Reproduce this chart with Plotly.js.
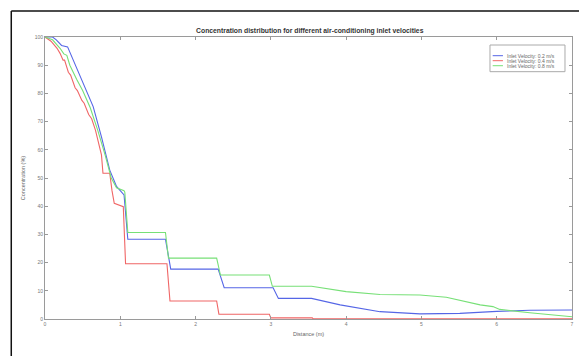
<!DOCTYPE html>
<html>
<head>
<meta charset="utf-8">
<script src="https://cdn.plot.ly/plotly-3.0.1.min.js"></script>
<style>html,body{margin:0;padding:0;background:#fff;}#chart{width:579px;height:356px;}</style>
</head>
<body>
<div id="chart"></div>
<script>
const seriesNames = ["Inlet Velocity: 0.2 m/s", "Inlet Velocity: 0.4 m/s", "Inlet Velocity: 0.8 m/s"];

const xBlue = [0, 0.1, 0.15, 0.22, 0.3, 0.34, 0.38, 0.5, 0.64, 0.75, 0.86, 0.95, 1.04, 1.05, 1.10, 1.60, 1.67, 2.30, 2.38, 3.03, 3.10, 3.54, 3.92, 4.45, 4.98, 5.51, 6.0, 6.44, 7.0];
const yBlue = [100, 100, 99, 97, 96.5, 94, 91, 84, 75.3, 64.6, 52.8, 47, 44.5, 44, 28.3, 28.3, 17.7, 17.7, 11.1, 11.1, 7.3, 7.3, 5.0, 2.6, 1.8, 2.0, 2.7, 3.1, 3.2];

const xRed = [0, 0.08, 0.16, 0.2, 0.24, 0.26, 0.31, 0.34, 0.4, 0.43, 0.49, 0.52, 0.58, 0.62, 0.67, 0.7, 0.75, 0.77, 0.86, 0.89, 0.92, 1.04, 1.07, 1.62, 1.66, 2.28, 2.31, 2.98, 3.00, 3.55, 3.56, 7.0];
const yRed = [100, 98.5, 96, 94.2, 91.8, 91.8, 87.5, 86.5, 82, 81, 77.5, 76.5, 72.5, 71, 67, 64, 58.2, 51.7, 51.7, 45.5, 41, 39.8, 19.6, 19.6, 6.4, 6.4, 1.7, 1.7, 0.4, 0.4, 0.1, 0.1];

const xGreen = [0, 0.1, 0.2, 0.25, 0.29, 0.33, 0.42, 0.5, 0.6, 0.7, 0.8, 0.88, 0.95, 1.05, 1.06, 1.10, 1.60, 1.64, 2.28, 2.33, 2.98, 3.02, 3.54, 4.0, 4.45, 4.98, 5.33, 5.78, 5.95, 6.04, 6.44, 6.75, 7.0];
const yGreen = [100, 99, 96, 94, 93.5, 90, 85, 81, 75, 67, 58, 50, 46.5, 45.5, 45, 30.7, 30.7, 21.6, 21.6, 15.6, 15.6, 11.6, 11.6, 9.7, 8.7, 8.5, 7.7, 5.0, 4.4, 3.4, 2.2, 1.4, 0.8];

const xTicks = [0, 1, 2, 3, 4, 5, 6, 7];
const yTicks = [0, 10, 20, 30, 40, 50, 60, 70, 80, 90, 100];

const colors = ["#5566e6", "#f06666", "#77e077"];

const traces = [
  {x: xBlue, y: yBlue, name: seriesNames[0]},
  {x: xRed, y: yRed, name: seriesNames[1]},
  {x: xGreen, y: yGreen, name: seriesNames[2]}
].map((t, i) => Object.assign(t, {type: "scatter", mode: "lines", line: {color: colors[i], width: 1.1}}));

const axisCommon = {
  showgrid: false, zeroline: false, showline: true, linecolor: "#9a9a9a", linewidth: 1,
  mirror: "ticks", ticks: "inside", ticklen: 3, tickcolor: "#9a9a9a",
  tickfont: {family: "Liberation Sans, Arial, sans-serif", size: 5, color: "#777"}
};

// legend (drawn as box + sample lines + labels in paper coordinates)
const legX0 = 0.8444, legX1 = 0.9867, legY0 = 0.877, legY1 = 0.9716;
const legLineX0 = 0.8495, legLineX1 = 0.869, legTextX = 0.8729;
const legRowsY = [0.9337, 0.916, 0.8982];

const shapes = [
  {type: "line", xref: "paper", yref: "paper", x0: -0.064, x1: 1.05, y0: 1.092, y1: 1.092, line: {color: "#111", width: 1.5}},
  {type: "line", xref: "paper", yref: "paper", x0: -0.064, x1: -0.064, y0: 1.092, y1: -0.2, line: {color: "#111", width: 1.5}},
  {type: "rect", xref: "paper", yref: "paper", x0: legX0, x1: legX1, y0: legY0, y1: legY1, fillcolor: "#fff", line: {color: "#aaa", width: 1}}
];
const annotations = [];
seriesNames.forEach((n, i) => {
  shapes.push({type: "line", xref: "paper", yref: "paper", x0: legLineX0, x1: legLineX1, y0: legRowsY[i], y1: legRowsY[i], line: {color: colors[i], width: 1}});
  annotations.push({xref: "paper", yref: "paper", x: legTextX, y: legRowsY[i], xanchor: "left", yanchor: "middle", showarrow: false,
                    text: n, font: {family: "Liberation Sans, Arial, sans-serif", size: 5, color: "#666"}});
});

const layout = {
  width: 579, height: 356,
  margin: {l: 45, r: 7, t: 37, b: 37},
  paper_bgcolor: "#fff", plot_bgcolor: "#fff",
  showlegend: false,
  font: {family: "Liberation Sans, Arial, sans-serif", color: "#555"},
  title: {text: "<b>Concentration distribution for different air-conditioning inlet velocities</b>",
          font: {size: 6.8, color: "#333"}, x: 0.535, xanchor: "center", y: 0.915, yanchor: "middle"},
  xaxis: Object.assign({}, axisCommon, {range: [0, 7], tickvals: xTicks, ticktext: xTicks.map(String),
          title: {text: "Distance (m)", font: {size: 5.5, color: "#666"}, standoff: 6}}),
  yaxis: Object.assign({}, axisCommon, {range: [0, 100], tickvals: yTicks, ticktext: yTicks.map(String),
          title: {text: "Concentration (%)", font: {size: 5.5, color: "#666"}, standoff: 8}}),
  shapes: shapes,
  annotations: annotations
};

Plotly.newPlot("chart", traces, layout, {displayModeBar: false, staticPlot: true});
</script>
</body>
</html>
